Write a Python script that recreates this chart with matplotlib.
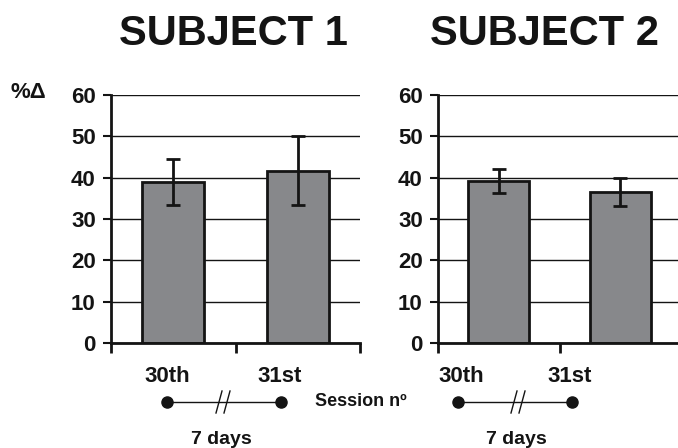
import numpy as np
import matplotlib.pyplot as plt

plt.rcParams['font.family'] = ['Liberation Sans', 'DejaVu Sans']
plt.rcParams['font.weight'] = 'bold'

# data
sessions = ['30th', '31st']
subj1_mean = [39.0, 41.7]
subj1_err = [5.6, 8.3]
subj2_mean = [39.2, 36.5]
subj2_err = [3.0, 3.3]
titles = ['SUBJECT 1', 'SUBJECT 2']
yticks = [0, 10, 20, 30, 40, 50, 60]

W, H = 678, 448
fig = plt.figure(figsize=(6.78, 4.48), dpi=100)

ink = '#141414'
bar_color = '#87888b'


def draw_panel(ax, means, errs):
    x = np.arange(len(means)) + 0.5
    ax.set_axisbelow(True)
    ax.bar(x, means, width=0.5, color=bar_color, edgecolor=ink, linewidth=2, zorder=2)
    ax.errorbar(x, means, yerr=errs, fmt='none', ecolor=ink, elinewidth=2,
                capsize=5, capthick=2, zorder=3)
    ax.set_xlim(0, 2)
    ax.set_ylim(0, 60)
    ax.set_yticks(yticks)
    ax.set_yticklabels([str(v) for v in yticks], fontsize=16, fontweight='bold', color=ink)
    ax.set_xticks([0, 1, 2])
    ax.set_xticklabels([])
    ax.tick_params(axis='y', length=6, width=1.5, pad=5, color=ink)
    ax.tick_params(axis='x', direction='out', length=7, width=2, color=ink)
    ax.yaxis.grid(True, color=ink, linewidth=1)
    for s in ['top', 'right']:
        ax.spines[s].set_visible(False)
    for s in ['left', 'bottom']:
        ax.spines[s].set_linewidth(2)
        ax.spines[s].set_color(ink)


def fx(px):
    return px / W


def fy(py):
    return 1 - py / H


ax1 = fig.add_axes([fx(111), fy(343), fx(360) - fx(111), fy(95) - fy(343)])
draw_panel(ax1, subj1_mean, subj1_err)
ax2 = fig.add_axes([fx(438), fy(343), fx(681) - fx(438), fy(95) - fy(343)])
draw_panel(ax2, subj2_mean, subj2_err)

# titles
fig.text(fx(233), fy(34), titles[0], ha='center', va='center', fontsize=30, fontweight='bold', color=ink)
fig.text(fx(544), fy(34), titles[1], ha='center', va='center', fontsize=30, fontweight='bold', color=ink)
fig.text(fx(28), fy(93), '%\u0394', ha='center', va='center', fontsize=16, fontweight='bold', color=ink)

# session labels and timeline in pixel coordinates
ov = fig.add_axes([0, 0, 1, 1])
ov.set_xlim(0, W)
ov.set_ylim(H, 0)
ov.axis('off')

label_x = [(167, 280), (461, 570)]
dot_x = [(167, 281), (458, 572)]
break_x = [223, 518]
for (lx1, lx2), (dx1, dx2), bx in zip(label_x, dot_x, break_x):
    ov.text(lx1, 377, sessions[0], ha='center', va='center', fontsize=16, fontweight='bold', color=ink)
    ov.text(lx2, 377, sessions[1], ha='center', va='center', fontsize=16, fontweight='bold', color=ink)
    ov.plot([dx1, dx2], [402, 402], color=ink, lw=1)
    ov.plot([dx1, dx2], [402, 402], 'o', color=ink, ms=8)
    for off in (-4, 4):
        ov.plot([bx + off - 3, bx + off + 3], [413, 391], color=ink, lw=1)
    ov.text(bx - 2, 439, '7 days', ha='center', va='center', fontsize=14, fontweight='bold', color=ink)

ov.text(361, 402, 'Session n\u00ba', ha='center', va='center', fontsize=13, fontweight='bold', color=ink)

fig.savefig('out.png', dpi=100)
